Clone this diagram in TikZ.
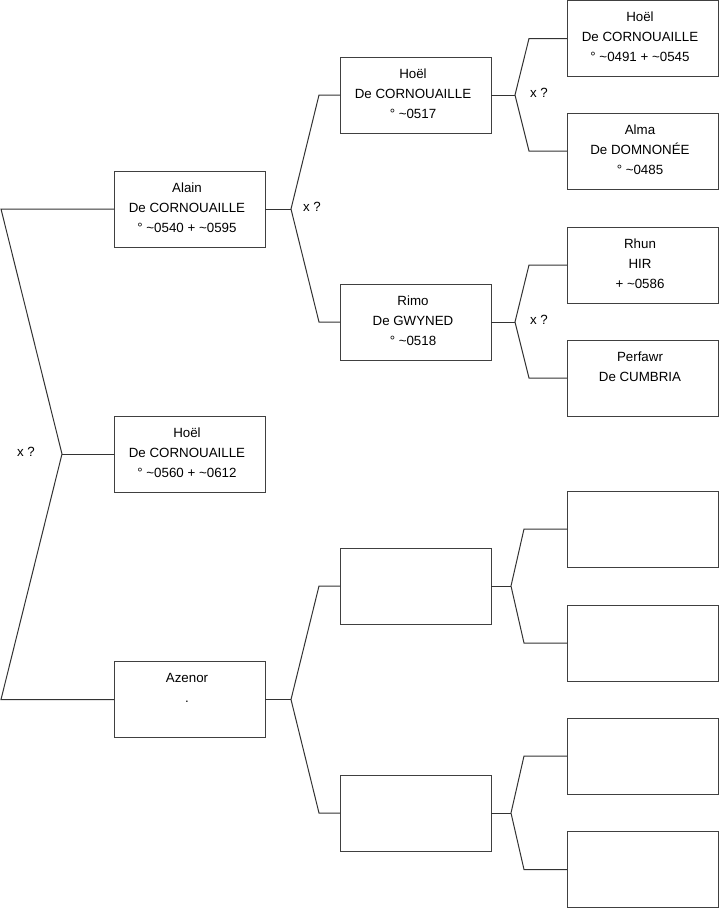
\documentclass[tikz,border=0pt]{standalone}
\usepackage{fontspec}
\setmainfont{Liberation Sans}
\newcommand{\tld}{\textasciitilde}
\newcommand{\boxtxt}[1]{\parbox[c][57pt][t]{113.25pt}{\centering\rightskip=3.75pt plus 1fil\rule{0pt}{15.75pt}#1}}
\begin{document}
\begin{tikzpicture}[x=0.75pt,y=-0.75pt,
  pbox/.style={draw=black!75, line width=0.75pt, inner sep=0pt, outer sep=0pt, fill=white,
    font=\fontsize{10}{15}\selectfont},
  conn/.style={draw=black!80, line width=0.75pt},
  xq/.style={font=\fontsize{10}{12}\selectfont, inner sep=0pt}]
\useasboundingbox (0,0) rectangle (719,908);

% column 1
\node[pbox] (bAlain) at (189.5,209) {\boxtxt{Alain\\De CORNOUAILLE\\° \tld0540 + \tld0595}};
\node[pbox] (bHoelM) at (189.5,454) {\boxtxt{Hoël\\De CORNOUAILLE\\° \tld0560 + \tld0612}};
\node[pbox] (bAzenor) at (189.5,699.5) {\boxtxt{Azenor\\.}};

% column 2
\node[pbox] (bHoelA) at (415.5,95) {\boxtxt{Hoël\\De CORNOUAILLE\\° \tld0517}};
\node[pbox] (bRimo) at (415.5,322) {\boxtxt{Rimo\\De GWYNED\\° \tld0518}};
\node[pbox] (bE1) at (415.5,586) {\boxtxt{}};
\node[pbox] (bE2) at (415.5,813) {\boxtxt{}};

% column 3
\node[pbox] (bHoelB) at (642.5,38.5) {\boxtxt{Hoël\\De CORNOUAILLE\\° \tld0491 + \tld0545}};
\node[pbox] (bAlma) at (642.5,151) {\boxtxt{Alma\\De DOMNONÉE\\° \tld0485}};
\node[pbox] (bRhun) at (642.5,265) {\boxtxt{Rhun\\HIR\\+ \tld0586}};
\node[pbox] (bPerf) at (642.5,378) {\boxtxt{Perfawr\\De CUMBRIA}};
\node[pbox] (bE3) at (642.5,529) {\boxtxt{}};
\node[pbox] (bE4) at (642.5,643) {\boxtxt{}};
\node[pbox] (bE5) at (642.5,756) {\boxtxt{}};
\node[pbox] (bE6) at (642.5,869.5) {\boxtxt{}};

% root connector
\coordinate (r0) at (62,454);
\coordinate (r1) at (1,209);
\coordinate (r2) at (1,699.5);
\draw[conn] (bAlain.west) -- (r1) -- (r0) -- (r2) -- (bAzenor.west);
\draw[conn] (r0) -- (bHoelM.west);
\node[xq] (q0) at (26,452) {x ?};

% Alain
\coordinate (a0) at (291,209);
\coordinate (a1) at (319,95);
\coordinate (a2) at (319,322);
\draw[conn] (bAlain.east) -- (a0);
\draw[conn] (bHoelA.west) -- (a1) -- (a0) -- (a2) -- (bRimo.west);
\node[xq] (q1) at (312,207) {x ?};

% Azenor
\coordinate (z0) at (291,699.5);
\coordinate (z1) at (319,586);
\coordinate (z2) at (319,813);
\draw[conn] (bAzenor.east) -- (z0);
\draw[conn] (bE1.west) -- (z1) -- (z0) -- (z2) -- (bE2.west);

% Hoel 0517
\coordinate (h0) at (515,95);
\coordinate (h1) at (529,38.5);
\coordinate (h2) at (529,151);
\draw[conn] (bHoelA.east) -- (h0);
\draw[conn] (bHoelB.west) -- (h1) -- (h0) -- (h2) -- (bAlma.west);
\node[xq] (q2) at (539,93) {x ?};

% Rimo
\coordinate (m0) at (515,322);
\coordinate (m1) at (529,265);
\coordinate (m2) at (529,378);
\draw[conn] (bRimo.east) -- (m0);
\draw[conn] (bRhun.west) -- (m1) -- (m0) -- (m2) -- (bPerf.west);
\node[xq] (q3) at (539,320) {x ?};

% empty 1
\coordinate (e0) at (511,586);
\coordinate (e1) at (524,529);
\coordinate (e2) at (524,643);
\draw[conn] (bE1.east) -- (e0);
\draw[conn] (bE3.west) -- (e1) -- (e0) -- (e2) -- (bE4.west);

% empty 2
\coordinate (f0) at (511,813);
\coordinate (f1) at (524,756);
\coordinate (f2) at (524,869.5);
\draw[conn] (bE2.east) -- (f0);
\draw[conn] (bE5.west) -- (f1) -- (f0) -- (f2) -- (bE6.west);
\end{tikzpicture}
\end{document}
